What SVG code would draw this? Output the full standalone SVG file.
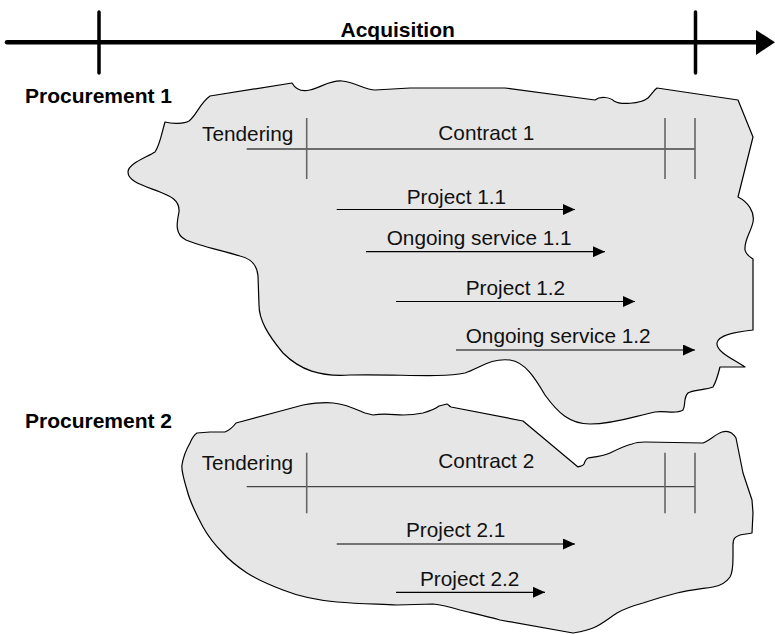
<svg xmlns="http://www.w3.org/2000/svg" width="775" height="634" viewBox="0 0 775 634">
  <style>
    .bold { font-family: "Liberation Sans", Arial, sans-serif; font-weight: bold; font-size: 21px; fill: #000; }
    .lbl { font-family: "Liberation Sans", Arial, sans-serif; font-size: 20.8px; fill: #111; }
    .blob { fill: #e6e6e6; stroke: #000; stroke-width: 1.2; stroke-linejoin: round; }
    .span { stroke: #444; stroke-width: 1.3; fill: none; }
    .tick { stroke: #666; stroke-width: 1.6; fill: none; }
    .arrow { stroke: #000; stroke-width: 1.2; fill: none; marker-end: url(#head); }
  </style>
  <defs>
    <marker id="head" markerUnits="userSpaceOnUse" markerWidth="12" markerHeight="11" refX="12" refY="5.5" orient="auto">
      <path d="M0,0 L12,5.5 L0,11 Z" fill="#000"/>
    </marker>
  </defs>

  <rect width="775" height="634" fill="#fff"/>

  <!-- acquisition time axis -->
  <g id="acquisition-axis">
    <line x1="7" y1="42.2" x2="758" y2="42.2" stroke="#000" stroke-width="4.5" stroke-linecap="round"/>
    <polygon points="756,30 775,42.2 756,55" fill="#000"/>
    <line x1="99" y1="12" x2="99" y2="73" stroke="#000" stroke-width="3.5" stroke-linecap="round"/>
    <line x1="695.5" y1="12" x2="695.5" y2="73" stroke="#000" stroke-width="3.5" stroke-linecap="round"/>
    <text class="bold" x="340.5" y="36.5">Acquisition</text>
  </g>

  <!-- first procurement -->
  <g id="procurement-1">
    <text class="bold" x="25" y="102.5">Procurement 1</text>
    <path class="blob" d="M210,96 L292,83 C296,90 302,92 310,90 C322,87 330,80 342,81 C355,82 365,90 375,90 L410,88 L505,88 L595,100 C600,96 610,97 614,101 C620,105 640,104 648,98 C652,94 654,90 657,88 L738,100 L753,137 L738,197 C748,202 755,212 753,222 C751,232 744,240 745,250 C746,255 750,257 753,259 L753,330 C735,332 718,335 717,343 C716,352 735,360 745,367 L720,367 C718,375 716,382 713,387 C705,390 692,390 688,393 C683,398 686,405 683,410 C675,415 665,410 655,412 C635,416 615,424 590,424 C570,424 558,413 545,395 C535,378 525,362 510,360 C490,358 480,368 465,373 C440,378 400,374 350,375 C320,377 300,370 283,353 C268,335 259,320 259,305 L258,276 C257,262 248,258 240,256 C220,250 200,246 186,240 C174,234 177,222 179,212 C180,200 170,196 160,192 C145,186 128,182 128,172 C128,164 145,158 155,152 C160,145 162,132 165,122 C172,124 184,124 189,121 C197,115 199,104 210,96 Z"/>
    <g id="tendering-1">
      <text class="lbl" x="202" y="140.7">Tendering</text>
    </g>
    <g id="contract-1">
      <line class="span" x1="246.7" y1="149" x2="695" y2="149"/>
      <line class="tick" x1="306.7" y1="118" x2="306.7" y2="179"/>
      <line class="tick" x1="665" y1="118" x2="665" y2="179"/>
      <line class="tick" x1="695" y1="118" x2="695" y2="179"/>
      <text class="lbl" x="438.3" y="140.3">Contract 1</text>
    </g>
    <text class="lbl" x="406.7" y="204">Project 1.1</text>
    <text class="lbl" x="386.7" y="245.3">Ongoing service 1.1</text>
    <text class="lbl" x="465.7" y="295">Project 1.2</text>
    <text class="lbl" x="465.7" y="343.3">Ongoing service 1.2</text>
  </g>

  <!-- second procurement -->
  <g id="procurement-2">
    <text class="bold" x="25" y="428">Procurement 2</text>
    <path class="blob" d="M197,433 L210,432 L225,432 C230,430 233,427 236,423 L277,412 L303,405 C315,403 325,402 333,403 C340,404 345,405 350,407 C356,409 360,411 365,413 L373,415 C385,413 395,415 403,415 C412,415 418,414 423,413 C430,411 435,409 439,406 L447,404 C449,405 449,406 451,407 L523,421 L578,467 C581,466 583,466 584,464 C585,461 586,459 588,458 C595,457 604,456 610,453 C618,449 624,446 632,444 C637,442 640,442 645,442 L703,443 C710,440 716,434 722,432 C728,430 733,433 736,438 L743,473 L752,500 L753,513 L752,533 C748,534 744,534 740,535 C735,537 733,538 733,545 L733,557 C733,565 733,572 730,577 C725,584 720,586 713,587 C700,589 690,590 677,593 C665,596 655,599 643,603 C632,606 624,609 617,613 C609,618 601,625 593,628 C586,631 579,632 573,633 L500,620 C485,616 472,613 460,610 C450,607 443,605 433,604 L397,605 C380,604 360,604 337,602 C315,600 298,596 283,590 C270,585 258,580 247,573 C238,567 230,561 223,553 C214,544 208,536 203,527 C196,514 190,502 187,490 C184,480 181,470 182,465 C183,458 186,450 190,443 C192,438 194,435 197,433 Z"/>
    <g id="tendering-2">
      <text class="lbl" x="201.7" y="470">Tendering</text>
    </g>
    <g id="contract-2">
      <line class="span" x1="246.7" y1="486.7" x2="695" y2="486.7"/>
      <line class="tick" x1="306.7" y1="452.7" x2="306.7" y2="513.3"/>
      <line class="tick" x1="665" y1="452.7" x2="665" y2="513.3"/>
      <line class="tick" x1="695" y1="452.7" x2="695" y2="513.3"/>
      <text class="lbl" x="438.3" y="468">Contract 2</text>
    </g>
    <text class="lbl" x="406" y="536.8">Project 2.1</text>
    <text class="lbl" x="420" y="586">Project 2.2</text>
  </g>

  <!-- project and service timelines -->
  <g id="connectors">
    <line class="arrow" x1="336.7" y1="209.5" x2="575" y2="209.5"/>
    <line class="arrow" x1="366" y1="251.7" x2="605" y2="251.7"/>
    <line class="arrow" x1="396" y1="301.5" x2="635" y2="301.5"/>
    <line class="arrow" x1="456" y1="350" x2="695" y2="350"/>
    <line class="arrow" x1="336.7" y1="544" x2="575" y2="544"/>
    <line class="arrow" x1="396" y1="592.3" x2="545" y2="592.3"/>
  </g>
</svg>
